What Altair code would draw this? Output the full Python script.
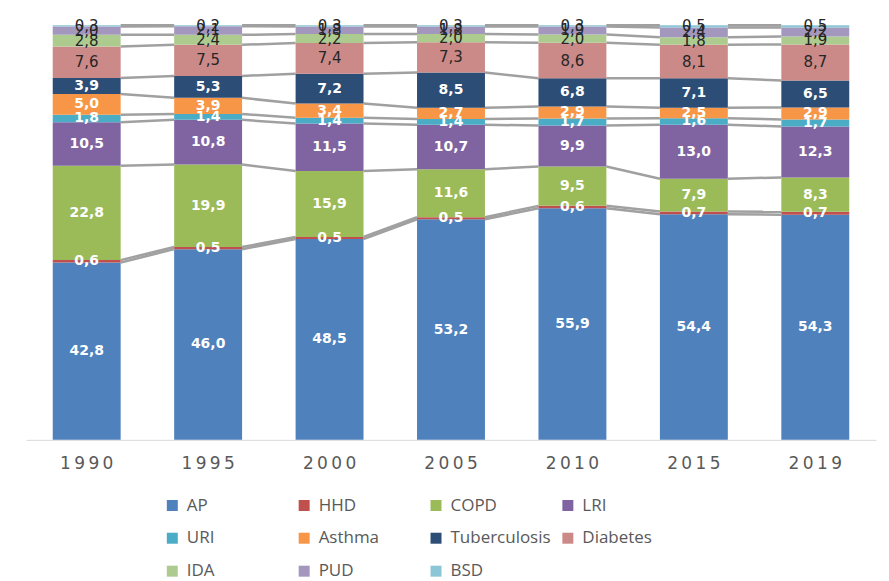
import altair as alt

YEARS = ["1990", "1995", "2000", "2005", "2010", "2015", "2019"]
SERIES = ["AP", "HHD", "COPD", "LRI", "URI", "Asthma", "Tuberculosis",
          "Diabetes", "IDA", "PUD", "BSD"]
COLORS = ["#4F81BD", "#C0504D", "#9BBB59", "#8064A2", "#4BACC6", "#F79646",
          "#2C4D75", "#CB8A88", "#AECB8F", "#A497BE", "#8CC5D6"]

AP = [42.8, 46.0, 48.5, 53.2, 55.9, 54.4, 54.3]
HHD = [0.6, 0.5, 0.5, 0.5, 0.6, 0.7, 0.7]
COPD = [22.8, 19.9, 15.9, 11.6, 9.5, 7.9, 8.3]
LRI = [10.5, 10.8, 11.5, 10.7, 9.9, 13.0, 12.3]
URI = [1.8, 1.4, 1.4, 1.4, 1.7, 1.6, 1.7]
ASTHMA = [5.0, 3.9, 3.4, 2.7, 2.9, 2.5, 2.9]
TB = [3.9, 5.3, 7.2, 8.5, 6.8, 7.1, 6.5]
DIABETES = [7.6, 7.5, 7.4, 7.3, 8.6, 8.1, 8.7]
IDA = [2.8, 2.4, 2.2, 2.0, 2.0, 1.8, 1.9]
PUD = [2.0, 2.1, 1.8, 1.8, 1.9, 2.4, 2.2]
BSD = [0.3, 0.2, 0.3, 0.3, 0.3, 0.5, 0.5]

VALUES = [AP, HHD, COPD, LRI, URI, ASTHMA, TB, DIABETES, IDA, PUD, BSD]

W, H = 851, 415
BAR = 68
STEP = W / len(YEARS)
PAD_IN = 1 - BAR / STEP
HW = (BAR / 2) / STEP

totals = [sum(v[i] for v in VALUES) for i in range(len(YEARS))]
bar_rows = []
line_rows = []
cum = [0.0] * len(YEARS)
for si, (name, vals) in enumerate(zip(SERIES, VALUES)):
    tops = []
    for yi, v in enumerate(vals):
        y0 = cum[yi] / totals[yi]
        y1 = (cum[yi] + v) / totals[yi]
        tops.append(y1)
        bar_rows.append({
            "series": name, "year": YEARS[yi],
            "label": f"{v:.1f}".replace(".", ","),
            "light": 1 if si < 7 else 0,
            "y0": y0, "y1": y1, "mid": (y0 + y1) / 2,
        })
    for yi in range(len(vals) - 1):
        seg = f"{name}-{yi}"
        line_rows.append({"seg": seg, "px": yi + HW, "py": tops[yi]})
        line_rows.append({"seg": seg, "px": yi + 1 - HW, "py": tops[yi + 1]})
    for yi, v in enumerate(vals):
        cum[yi] += v

bar_data = alt.Data(values=bar_rows)
line_data = alt.Data(values=line_rows)

y_scale = alt.Scale(domain=[0, 1], nice=False)
x_band = alt.Scale(domain=YEARS, paddingInner=PAD_IN, paddingOuter=PAD_IN / 2)
x_axis = alt.Axis(ticks=False, grid=False, domainColor="#D9D9D9", title="",
                  labelAngle=0, labelFont="DejaVu Sans", labelFontSize=17,
                  labelColor="#595959", labelPadding=16,
                  labelExpr="join(split(datum.label, ''), '\u2009')")

lines = alt.Chart(line_data).mark_line(color="#A0A0A0", strokeWidth=2.5).encode(
    x=alt.X("px:Q", scale=alt.Scale(domain=[-0.5, len(YEARS) - 0.5], nice=False,
                                    zero=False), axis=None),
    y=alt.Y("py:Q", scale=y_scale, axis=None),
    detail="seg:N",
)

bars = alt.Chart(bar_data).mark_bar().encode(
    x=alt.X("year:O", scale=x_band, axis=x_axis),
    y=alt.Y("y0:Q", scale=y_scale, axis=None),
    y2=alt.Y2("y1"),
    color=alt.Color("series:N", scale=alt.Scale(domain=SERIES, range=COLORS),
                    legend=alt.Legend(title="", orient="none", legendX=138,
                                      legendY=472, columns=4,
                                      direction="horizontal", gridAlign="all",
                                      symbolType="square", symbolSize=121,
                                      labelFont="Open Sans", labelFontSize=17,
                                      labelColor="#595959", labelOffset=6,
                                      columnPadding=8, rowPadding=15,
                                      labelLimit=300)),
)

text_light = alt.Chart(bar_data).transform_filter("datum.light == 1").mark_text(
    font="DejaVu Sans", fontSize=14, fontWeight="bold", color="white",
    baseline="middle", align="center",
).encode(x=alt.X("year:O", scale=x_band, axis=x_axis),
         y=alt.Y("mid:Q", scale=y_scale, axis=None),
         text=alt.Text("label:N"))

text_dark = alt.Chart(bar_data).transform_filter("datum.light == 0").mark_text(
    font="DejaVu Sans", fontSize=15, color="#262626",
    baseline="middle", align="center",
).encode(x=alt.X("year:O", scale=x_band, axis=x_axis),
         y=alt.Y("mid:Q", scale=y_scale, axis=None),
         text=alt.Text("label:N"))

front = alt.layer(bars, text_light, text_dark)
chart = alt.layer(lines, front).resolve_scale(x="independent").properties(
    width=W, height=H,
    padding={"left": 18, "top": 10, "right": 5, "bottom": 5},
).configure_view(strokeWidth=0)

chart.save("out.html", embed_options={"renderer": "svg", "actions": False})
